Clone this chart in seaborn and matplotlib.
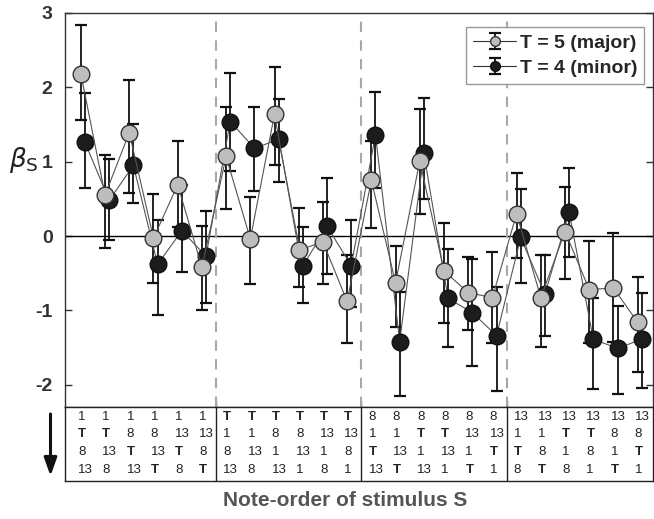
import numpy as np
import pandas as pd
import matplotlib
matplotlib.use('Agg')
import matplotlib.pyplot as plt
import seaborn as sns
from matplotlib.lines import Line2D
from matplotlib.container import ErrorbarContainer
from matplotlib.legend_handler import HandlerTuple, HandlerErrorbar

# stimulus index 1..24 (4 groups of 6 note orders)
stimulus = np.arange(1, 25)

# T = 5 (major): beta, upper and lower end of error bar
major_beta = [2.18, 0.55, 1.39, -0.03, 0.69, -0.42,
              1.07, -0.04, 1.64, -0.19, -0.08, -0.88,
              0.75, -0.63, 1.01, -0.47, -0.76, -0.83,
              0.30, -0.83, 0.06, -0.72, -0.70, -1.16]
major_upper = [2.84, 1.09, 2.10, 0.56, 1.28, 0.13,
               1.74, 0.52, 2.27, 0.38, 0.46, -0.26,
               1.28, -0.13, 1.71, 0.17, -0.28, -0.21,
               0.85, -0.25, 0.66, -0.07, 0.04, -0.55]
major_lower = [1.56, -0.16, 0.58, -0.63, 0.12, -1.00,
               0.37, -0.64, 0.96, -0.69, -0.64, -1.44,
               0.11, -1.22, 0.30, -1.17, -1.27, -1.44,
               -0.29, -1.49, -0.58, -1.44, -1.42, -1.83]

# T = 4 (minor)
minor_beta = [1.26, 0.48, 0.95, -0.38, 0.07, -0.27,
              1.54, 1.18, 1.30, -0.40, 0.13, -0.40,
              1.36, -1.42, 1.11, -0.84, -1.03, -1.34,
              -0.02, -0.78, 0.32, -1.39, -1.51, -1.39]
minor_upper = [1.93, 1.04, 1.51, 0.22, 0.68, 0.34,
               2.19, 1.74, 1.84, 0.12, 0.78, 0.22,
               1.94, -0.75, 1.86, -0.17, -0.31, -0.68,
               0.63, -0.25, 0.92, -0.84, -0.94, -0.77]
minor_lower = [0.64, -0.05, 0.45, -1.06, -0.48, -0.90,
               0.87, 0.60, 0.72, -0.90, -0.51, -0.96,
               0.65, -2.15, 0.50, -1.49, -1.75, -2.08,
               -0.63, -1.34, -0.28, -2.06, -2.12, -2.05]

# note order of each stimulus, read top to bottom
note_orders = [
    ['1', 'T', '8', '13'], ['1', 'T', '13', '8'], ['1', '8', 'T', '13'],
    ['1', '8', '13', 'T'], ['1', '13', 'T', '8'], ['1', '13', '8', 'T'],
    ['T', '1', '8', '13'], ['T', '1', '13', '8'], ['T', '8', '1', '13'],
    ['T', '8', '13', '1'], ['T', '13', '1', '8'], ['T', '13', '8', '1'],
    ['8', '1', 'T', '13'], ['8', '1', '13', 'T'], ['8', 'T', '1', '13'],
    ['8', 'T', '13', '1'], ['8', '13', '1', 'T'], ['8', '13', 'T', '1'],
    ['13', '1', 'T', '8'], ['13', '1', '8', 'T'], ['13', 'T', '1', '8'],
    ['13', 'T', '8', '1'], ['13', '8', '1', 'T'], ['13', '8', 'T', '1'],
]
group_breaks = [6.5, 12.5, 18.5]

sns.set_theme(style='ticks')
plt.rcParams['font.family'] = ['Liberation Sans', 'DejaVu Sans']

fig = plt.figure(figsize=(6.54, 5.19), dpi=100)
ax = fig.add_axes([0.0994, 0.2158, 0.8991, 0.7592])
tax = fig.add_axes([0.0994, 0.0732, 0.8991, 0.1426])

offset = 0.085
gray = '#bdbdbd'
dark = '#1c1c1c'

df = pd.DataFrame({
    'x': np.concatenate([stimulus - offset, stimulus + offset]),
    'beta': major_beta + minor_beta,
    'series': ['major'] * 24 + ['minor'] * 24,
})

ax.axhline(0, color='black', lw=1.0, zorder=1)
for b in group_breaks:
    ax.axvline(b, color='#a8a8a8', lw=1.5, ls=(0, (5, 4)), zorder=1)

# error bars
major_x = stimulus - offset
minor_x = stimulus + offset
eb_major = ax.errorbar(major_x, major_beta,
                       yerr=[np.array(major_beta) - np.array(major_lower),
                             np.array(major_upper) - np.array(major_beta)],
                       fmt='none', ecolor='#111111', elinewidth=1.3, capsize=4, capthick=1.6, zorder=2)
eb_minor = ax.errorbar(minor_x, minor_beta,
                       yerr=[np.array(minor_beta) - np.array(minor_lower),
                             np.array(minor_upper) - np.array(minor_beta)],
                       fmt='none', ecolor='#111111', elinewidth=1.3, capsize=4, capthick=1.6, zorder=2)

# connecting lines + markers
sns.lineplot(data=df[df.series == 'minor'], x='x', y='beta', ax=ax, color='#555555', lw=0.8,
             marker='o', markersize=12, markerfacecolor=dark, markeredgecolor='#111111',
             markeredgewidth=1.0, zorder=3, legend=False)
sns.lineplot(data=df[df.series == 'major'], x='x', y='beta', ax=ax, color='#555555', lw=0.8,
             marker='o', markersize=12, markerfacecolor=gray, markeredgecolor='#333333',
             markeredgewidth=1.0, zorder=4, legend=False)

ax.set_xlim(0.26, 24.55)
ax.set_ylim(-2.3, 3)
ax.set_yticks([-2, -1, 0, 1, 2, 3])
ax.set_yticklabels(['-2', '-1', '0', '1', '2', '3'], fontsize=14, fontweight='bold', color='#333333')
ax.set_xticks(group_breaks)
ax.set_xticklabels([])
ax.tick_params(axis='y', direction='in', length=5, width=1, pad=9, right=True, color='#333333')
ax.tick_params(axis='x', direction='in', length=4, width=1, top=False, color='#333333')
ax.set_xlabel('')
ax.set_ylabel('')
for sp in ax.spines.values():
    sp.set_visible(True)
    sp.set_color('#333333')
    sp.set_linewidth(1.0)

# legend
h_major = Line2D([], [], color='#333333', lw=0.8, marker='o', markersize=7,
                 markerfacecolor=gray, markeredgecolor='#333333')
h_minor = Line2D([], [], color='#333333', lw=0.8, marker='o', markersize=7,
                 markerfacecolor=dark, markeredgecolor='#111111')
leg = ax.legend([(eb_major, h_major), (eb_minor, h_minor)], ['T = 5 (major)', 'T = 4 (minor)'],
                handler_map={tuple: HandlerTuple(ndivide=1, pad=0),
                             ErrorbarContainer: HandlerErrorbar(xerr_size=0.3, yerr_size=0.42)},
                loc='upper right', bbox_to_anchor=(0.985, 0.964), borderaxespad=0,
                fancybox=False, framealpha=1, edgecolor='#999999', handlelength=2.2,
                handletextpad=0.2, labelspacing=0.4, borderpad=0.35,
                prop={'size': 14, 'weight': 'bold'})
leg.get_frame().set_linewidth(1.0)

# note order table
tax.set_xlim(ax.get_xlim())
tax.set_ylim(0, 1)
tax.set_xticks([])
tax.set_yticks([])
for sp in tax.spines.values():
    sp.set_visible(True)
    sp.set_color('#222222')
    sp.set_linewidth(1.0)
for b in group_breaks:
    tax.axvline(b, color='#222222', lw=1.0)
row_y = [0.869, 0.635, 0.392, 0.149]
for s, order in zip(stimulus, note_orders):
    for yy, note in zip(row_y, order):
        tax.text(s - 0.2, yy, note, ha='left', va='center', fontsize=9.5,
                 fontweight='bold' if note == 'T' else 'normal', color='#222222')

# arrow, axis labels
fig.add_artist(matplotlib.patches.FancyArrowPatch(
    (50.5 / 654, 1 - 414 / 519), (50.5 / 654, 1 - 476 / 519),
    transform=fig.transFigure, arrowstyle='-|>,head_length=0.9,head_width=0.32',
    mutation_scale=12, color='#111111', lw=2.2, shrinkA=0, shrinkB=0))
fig.text(345 / 654, 1 - 500 / 519, 'Note-order of stimulus S', ha='center', va='center',
         fontsize=15, fontweight='bold', color='#555555')
fig.text(24 / 654, 1 - 160 / 519, r'$\beta_{\mathrm{S}}$', ha='center', va='center',
         fontsize=19, color='#222222')

fig.savefig('out.png', dpi=100)
